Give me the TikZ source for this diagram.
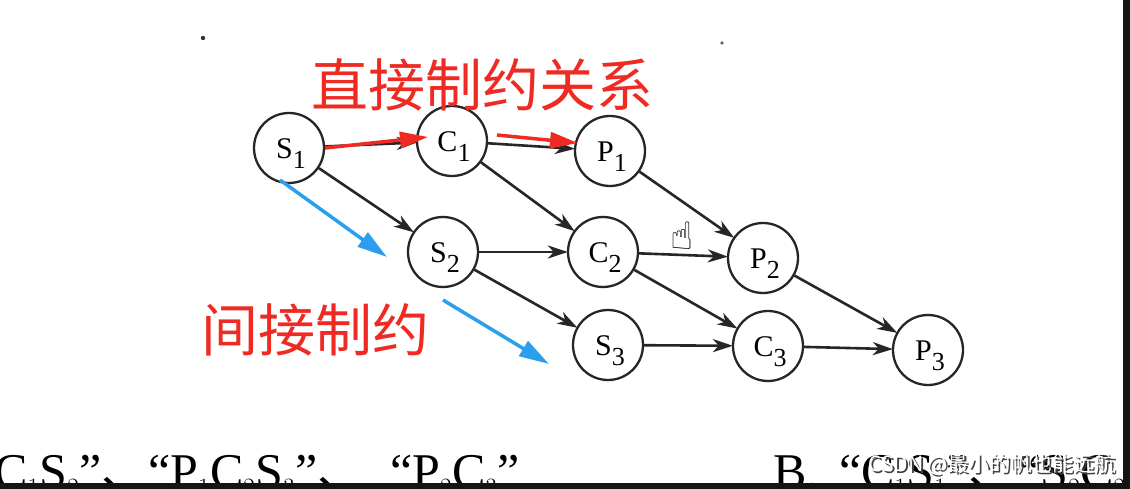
\documentclass[tikz,border=0pt]{standalone}
\usepackage{fontspec}
\setmainfont{Liberation Serif}
\newfontfamily\cjk{Noto Sans CJK SC}
\newfontfamily\symfont{DejaVu Sans}
\usetikzlibrary{arrows.meta, positioning}
\definecolor{markred}{HTML}{EE2A22}
\definecolor{markblue}{HTML}{2B9FEE}
\definecolor{framedark}{HTML}{141414}
\newcommand{\plab}[2]{#1\raisebox{-10pt}{\fontsize{26}{26}\selectfont #2}}
\newcommand{\qsep}{{\cjk 、}}
\tikzset{
  proc/.style={draw=black!85, circle, fill=white, line width=2.3pt, minimum size=70pt, inner sep=0pt},
  plabel/.style={inner sep=0pt, font=\fontsize{30}{30}\selectfont},
  dep/.style={-{Stealth[length=20pt, width=13pt, inset=6pt]}, line width=2.6pt, black!85, shorten >=-1pt},
  redmark/.style={-{Triangle[length=28pt, width=16pt]}, line width=3.5pt, markred},
  bluemark/.style={-{Triangle[length=30pt, width=17pt]}, line width=3.5pt, markblue},
  tag/.style={text=markred, font=\cjk\fontsize{57}{57}\selectfont, inner sep=0pt},
  booktext/.style={anchor=base west, inner sep=0pt, font=\fontsize{50}{50}\selectfont},
  wmark/.style={anchor=west, inner sep=0pt, font=\cjk\fontsize{21}{21}\selectfont},
}

\begin{document}
\begin{tikzpicture}[x=1pt, y=-1pt]
\useasboundingbox (0,0) rectangle (1130,489);
\fill[white] (0,0) rectangle (1130,489);

\fill[black!80] (203,38) circle (2.2pt);
\fill[black!60] (722,43) circle (1.8pt);

\node[proc] (s1) at (289,148) {};
\node[proc] (c1) at (452,141) {};
\node[proc] (p1) at (610,151) {};
\node[proc] (s2) at (443,252) {};
\node[proc] (c2) at (603,252) {};
\node[proc] (p2) at (763,258) {};
\node[proc] (s3) at (608,345) {};
\node[proc] (c3) at (768,346) {};
\node[proc] (p3) at (928,350) {};

\node[plabel] (s1lab) at ([shift={(2,6)}]s1) {\plab{S}{1}};
\node[plabel] (c1lab) at ([shift={(2,6)}]c1) {\plab{C}{1}};
\node[plabel] (p1lab) at ([shift={(2,6)}]p1) {\plab{P}{1}};
\node[plabel] (s2lab) at ([shift={(2,6)}]s2) {\plab{S}{2}};
\node[plabel] (c2lab) at ([shift={(2,6)}]c2) {\plab{C}{2}};
\node[plabel] (p2lab) at ([shift={(2,6)}]p2) {\plab{P}{2}};
\node[plabel] (s3lab) at ([shift={(2,6)}]s3) {\plab{S}{3}};
\node[plabel] (c3lab) at ([shift={(2,6)}]c3) {\plab{C}{3}};
\node[plabel] (p3lab) at ([shift={(2,6)}]p3) {\plab{P}{3}};

\draw[dep] (s1) -- (c1);
\draw[dep] (c1) -- (p1);
\draw[dep] (s1) -- (s2);
\draw[dep] (c1) -- (c2);
\draw[dep] (p1) -- (p2);
\draw[dep] (s2) -- (c2);
\draw[dep] (c2) -- (p2);
\draw[dep] (s2) -- (s3);
\draw[dep] (c2) -- (c3);
\draw[dep] (p2) -- (p3);
\draw[dep] (s3) -- (c3);
\draw[dep] (c3) -- (p3);

\coordinate (ra) at (325,148);
\coordinate (rb) at (428,137);
\coordinate (rc) at (497,135);
\coordinate (rd) at (578,143);
\coordinate (ba) at (280,180);
\coordinate (bb) at (387,257);
\coordinate (bc) at (443,300);
\coordinate (bd) at (549,364);
\draw[redmark] (ra) -- (rb);
\draw[redmark] (rc) -- (rd);
\draw[bluemark] (ba) -- (bb);
\draw[bluemark] (bc) -- (bd);

\node[tag] (direct) at (482,85) {直接制约关系};
\node[tag] (indirect) at (315,330) {间接制约};

\node[font=\symfont\fontsize{38}{38}\selectfont, inner sep=0pt] (cursor) at (682,236) {☝};

\node[booktext] (optA1) at (-6,488) {C$_1$S$_2$”\qsep};
\node[booktext] (optA2) at (148,488) {“P$_1$C$_2$S$_3$”\qsep};
\node[booktext] (optA3) at (390,488) {“P$_2$C$_3$”};
\node[booktext] (optB) at (773,488) {B.\hspace{0.4em}“C$_1$S$_1$”\qsep“S$_2$C$_2$”};

\node[wmark, text=black!75] (markshadow) at (870,466) {CSDN @最小的帆也能远航};
\node[wmark, text=white] (mark) at (868,464) {CSDN @最小的帆也能远航};

\fill[framedark] (1123,0) rectangle (1130,489);
\fill[framedark] (0,483) rectangle (1130,489);
\end{tikzpicture}
\end{document}
